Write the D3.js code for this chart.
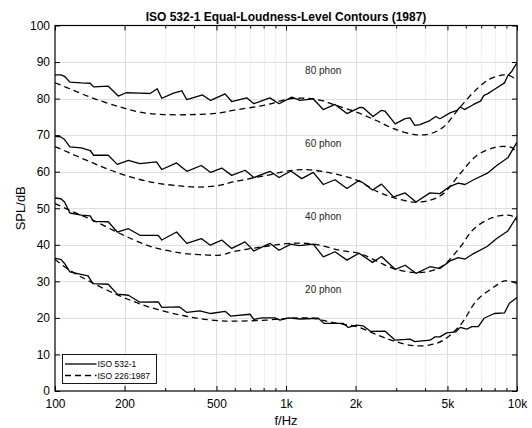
<!DOCTYPE html>
<html><head><meta charset="utf-8">
<script src="https://cdn.jsdelivr.net/npm/d3@7"></script>
<style>
body{margin:0;background:#fff;}
svg{display:block;font-family:"Liberation Sans",Arial,Helvetica,sans-serif;}
</style>
</head><body>
<svg id="chart" width="532" height="428"></svg>
<script>
// ---------------- data ----------------
const titleText = "ISO 532-1 Equal-Loudness-Level Contours (1987)";
const xLabelText = "f/Hz";
const yLabelText = "SPL/dB";
const legendLabels = ["ISO 532-1", "ISO 226:1987"];

const freqMajorTicks = [100, 200, 500, 1000, 2000, 5000, 10000];
const freqMajorLabels = ["100", "200", "500", "1k", "2k", "5k", "10k"];
const freqMinorTicks = [300, 400, 600, 700, 800, 900, 3000, 4000, 6000, 7000, 8000, 9000];
const splTicks = [0, 10, 20, 30, 40, 50, 60, 70, 80, 90, 100];

const phonLevels = [20, 40, 60, 80];
const phonLabels = ["20 phon", "40 phon", "60 phon", "80 phon"];

// ISO 532-1 contours: [frequency Hz, SPL dB]
const iso532_80 = [[100,86.5],[106,86.5],[110,86.1],[116,84.5],[130,84.3],[142,84.2],[147,83.2],[170,83.4],[188,80.7],[203,81.6],[233,81.5],[258,81.4],[277,82.7],[290,80.1],[326,81.5],[354,82.1],[372,79.7],[435,81.0],[472,79.5],[545,81.3],[582,79.2],[676,80.2],[726,78.6],[852,80.2],[933,78.6],[1059,80.4],[1150,79.5],[1312,79.9],[1450,77.0],[1630,78.4],[1836,75.9],[2090,77.6],[2160,77.5],[2380,75.1],[2590,76.8],[2680,76.6],[2970,73.1],[3280,74.5],[3440,74.7],[3610,72.7],[3800,72.9],[4200,74.0],[4450,75.1],[4640,74.5],[5130,76.1],[5500,76.8],[5680,77.7],[5920,77.0],[6490,78.4],[6950,79.3],[7190,80.9],[7450,81.3],[7970,82.5],[8830,84.3],[9130,86.3],[9500,87.5],[10000,89.8]];
const iso532_60 = [[100,69.7],[106,69.5],[110,68.8],[116,66.8],[130,66.5],[142,65.8],[147,64.5],[170,64.5],[186,62.0],[208,63.1],[233,62.2],[275,62.7],[290,60.6],[336,62.4],[372,60.1],[430,61.7],[472,59.8],[527,61.0],[582,59.0],[665,60.4],[726,58.4],[852,60.1],[933,58.4],[1050,60.2],[1170,58.1],[1312,59.8],[1450,56.5],[1630,57.8],[1836,55.4],[2070,57.6],[2160,56.9],[2370,55.0],[2590,56.6],[2920,53.1],[3280,54.2],[3654,51.7],[4200,54.2],[4640,54.0],[5130,56.0],[5570,56.9],[5957,56.5],[6490,57.8],[7450,59.6],[8170,61.7],[9130,63.8],[10000,68.1]];
const iso532_40 = [[100,52.8],[106,52.6],[110,51.7],[116,48.7],[130,48.1],[142,47.9],[147,46.4],[170,46.3],[186,43.5],[208,44.4],[233,42.6],[280,42.6],[290,41.3],[336,43.5],[372,40.4],[430,41.7],[470,39.9],[527,41.3],[582,39.0],[665,40.8],[726,38.3],[852,40.4],[933,38.5],[1050,40.2],[1140,39.8],[1312,40.2],[1450,36.7],[1630,38.1],[1836,35.8],[2070,37.7],[2370,35.2],[2590,36.8],[2970,33.3],[3280,34.4],[3654,32.2],[4200,34.0],[4640,33.5],[5130,35.6],[5570,36.5],[5957,36.1],[6490,37.6],[7450,39.6],[8170,41.7],[9130,43.8],[10000,47.8]];
const iso532_20 = [[100,36.3],[106,36.0],[110,34.9],[116,32.6],[128,32.0],[139,31.5],[146,29.4],[170,29.2],[186,26.5],[208,26.2],[233,24.3],[280,24.4],[290,22.9],[346,23.0],[372,21.5],[424,21.9],[472,21.2],[545,21.8],[576,20.5],[698,21.0],[726,19.6],[785,20.0],[896,20.0],[942,19.4],[1023,20.0],[1150,19.7],[1380,19.9],[1460,18.5],[1770,18.5],[1860,17.4],[2020,18.0],[2160,17.8],[2330,16.3],[2680,16.4],[2970,13.9],[3440,14.2],[3610,13.5],[4200,13.9],[4420,14.8],[4640,14.8],[4960,15.9],[5440,16.2],[5680,17.4],[6060,16.9],[6370,17.6],[6800,17.6],[7200,19.9],[7970,21.2],[8830,21.4],[9270,24.0],[10000,25.6]];

// ISO 226:1987 contours: [frequency Hz, SPL dB]
const iso226_80 = [[100,84.3],[110,83.3],[142,80.4],[191,77.7],[233,76.3],[285,75.7],[384,75.6],[518,76.1],[590,76.8],[824,78.3],[1006,79.8],[1200,80.1],[1400,79.6],[1600,78.4],[2020,76.3],[2460,74.0],[2920,71.8],[3670,70.1],[4210,70.4],[4800,72.2],[5680,77.7],[6720,82.7],[7650,85.4],[8800,86.5],[9300,86.3],[10000,85.0]];
const iso226_60 = [[100,66.9],[142,62.7],[191,59.5],[258,57.2],[348,56.1],[424,55.8],[518,56.3],[590,57.2],[824,59.0],[1076,60.4],[1270,60.5],[1600,59.5],[2020,57.7],[2500,54.5],[2920,52.9],[3557,51.7],[4210,52.2],[4800,54.0],[5680,59.5],[6720,64.5],[7970,66.6],[8800,66.9],[9500,66.6],[10000,65.1]];
const iso226_40 = [[100,51.3],[120,49.0],[146,46.7],[191,43.1],[258,39.6],[348,37.8],[424,37.3],[518,37.2],[590,38.1],[824,39.6],[1040,40.4],[1312,40.2],[1713,38.5],[2090,37.6],[2500,35.4],[2920,33.5],[3614,32.4],[4210,32.8],[4800,34.4],[5680,39.4],[6471,44.2],[7650,47.2],[8800,48.1],[9500,47.9],[10000,46.7]];
const iso226_20 = [[100,36.0],[116,33.0],[142,29.9],[191,26.0],[258,22.9],[348,20.8],[424,19.8],[518,19.2],[590,19.1],[824,19.4],[1040,19.9],[1312,19.9],[1600,18.7],[2020,17.6],[2500,15.3],[2920,13.7],[3557,12.4],[4210,12.6],[4800,13.9],[5680,18.0],[6720,24.9],[7970,28.5],[8800,30.1],[9500,29.9],[10000,29.4]];

const iso532Series = [iso532_20, iso532_40, iso532_60, iso532_80];
const iso226Series = [iso226_20, iso226_40, iso226_60, iso226_80];

// ---------------- layout ----------------
const W = 532, H = 428;
const L = 55, R = 517, T = 25.5, B = 391;

const svg = d3.select("#chart");
const x = d3.scaleLog().domain([100, 10000]).range([L, R]);
const y = d3.scaleLinear().domain([0, 100]).range([B, T]);

// grid
const grid = svg.append("g");
grid.selectAll("line.hg").data(splTicks.slice(1, -1)).join("line")
  .attr("x1", L).attr("x2", R)
  .attr("y1", d => Math.round(y(d)) + 0.5).attr("y2", d => Math.round(y(d)) + 0.5)
  .attr("stroke", "#dedede").attr("stroke-width", 1);
grid.selectAll("line.vm").data(freqMinorTicks).join("line")
  .attr("x1", d => Math.round(x(d)) + 0.5).attr("x2", d => Math.round(x(d)) + 0.5)
  .attr("y1", T).attr("y2", B)
  .attr("stroke", "#d4d4d4").attr("stroke-width", 1).attr("stroke-dasharray", "1,2");
grid.selectAll("line.vg").data(freqMajorTicks.slice(1, -1)).join("line")
  .attr("x1", d => Math.round(x(d)) + 0.5).attr("x2", d => Math.round(x(d)) + 0.5)
  .attr("y1", T).attr("y2", B)
  .attr("stroke", "#dedede").attr("stroke-width", 1);

// clip
svg.append("clipPath").attr("id", "clip").append("rect")
  .attr("x", L).attr("y", T).attr("width", R - L).attr("height", B - T);

const lineSolid = d3.line().x(d => x(d[0])).y(d => y(d[1]));
const lineSmooth = d3.line().x(d => x(d[0])).y(d => y(d[1])).curve(d3.curveCatmullRom.alpha(0.5));

const curves = svg.append("g").attr("clip-path", "url(#clip)");
curves.selectAll("path.s226").data(iso226Series).join("path")
  .attr("d", lineSmooth).attr("fill", "none").attr("stroke", "#000")
  .attr("stroke-width", 1.3).attr("stroke-dasharray", "6,4");
curves.selectAll("path.s532").data(iso532Series).join("path")
  .attr("d", lineSolid).attr("fill", "none").attr("stroke", "#000")
  .attr("stroke-width", 1.3).attr("stroke-linejoin", "round");

// phon labels
svg.append("g").selectAll("text").data(phonLevels).join("text")
  .attr("x", x(1210)).attr("y", d => y(d + 6.7))
  .attr("font-size", 10).attr("fill", "#222")
  .text((d, i) => phonLabels[i]);

// axes
function styleAxis(g) {
  g.select(".domain").remove();
  g.selectAll(".tick line").attr("stroke", "#000");
  g.selectAll(".tick text").attr("fill", "#000").attr("font-size", 12)
    .attr("font-family", "Liberation Sans, Arial, sans-serif");
}
svg.append("g").attr("transform", `translate(0,${B})`)
  .call(d3.axisBottom(x).tickValues(freqMajorTicks).tickSize(-5).tickPadding(8)
    .tickFormat((d, i) => freqMajorLabels[i])).call(styleAxis);
svg.append("g").attr("transform", `translate(0,${B})`)
  .call(d3.axisBottom(x).tickValues(freqMinorTicks).tickSize(-3).tickFormat("")).call(styleAxis);
svg.append("g").attr("transform", `translate(0,${T})`)
  .call(d3.axisTop(x).tickValues(freqMajorTicks).tickSize(-5).tickFormat("")).call(styleAxis);
svg.append("g").attr("transform", `translate(0,${T})`)
  .call(d3.axisTop(x).tickValues(freqMinorTicks).tickSize(-3).tickFormat("")).call(styleAxis);
svg.append("g").attr("transform", `translate(${L},0)`)
  .call(d3.axisLeft(y).tickValues(splTicks).tickSize(-5).tickPadding(5)
    .tickFormat(d3.format("d"))).call(styleAxis);
svg.append("g").attr("transform", `translate(${R},0)`)
  .call(d3.axisRight(y).tickValues(splTicks).tickSize(-5).tickFormat("")).call(styleAxis);

// box
svg.append("rect").attr("x", L).attr("y", T).attr("width", R - L).attr("height", B - T)
  .attr("fill", "none").attr("stroke", "#000").attr("stroke-width", 1.2);

// title and labels
svg.append("text").attr("x", (L + R) / 2).attr("y", 21).attr("text-anchor", "middle")
  .attr("font-size", 12).attr("font-weight", "bold").text(titleText);
svg.append("text").attr("x", (L + R) / 2).attr("y", 425).attr("text-anchor", "middle")
  .attr("font-size", 13).text(xLabelText);
svg.append("text").attr("transform", `translate(25,${(T + B) / 2}) rotate(-90)`)
  .attr("text-anchor", "middle").attr("font-size", 13).text(yLabelText);

// legend
const lg = svg.append("g");
lg.append("rect").attr("x", 62.5).attr("y", 354.5).attr("width", 94).attr("height", 29)
  .attr("fill", "#fff").attr("stroke", "#000").attr("stroke-width", 0.9);
const legendDash = [null, "6,4"];
legendLabels.forEach((t, i) => {
  const ly = 364 + i * 11.5;
  lg.append("line").attr("x1", 65).attr("x2", 96.5).attr("y1", ly).attr("y2", ly)
    .attr("stroke", "#000").attr("stroke-width", 1.3)
    .attr("stroke-dasharray", legendDash[i]);
  lg.append("text").attr("x", 97.5).attr("y", ly + 3).attr("font-size", 8.5).text(t);
});
</script>
</body></html>
